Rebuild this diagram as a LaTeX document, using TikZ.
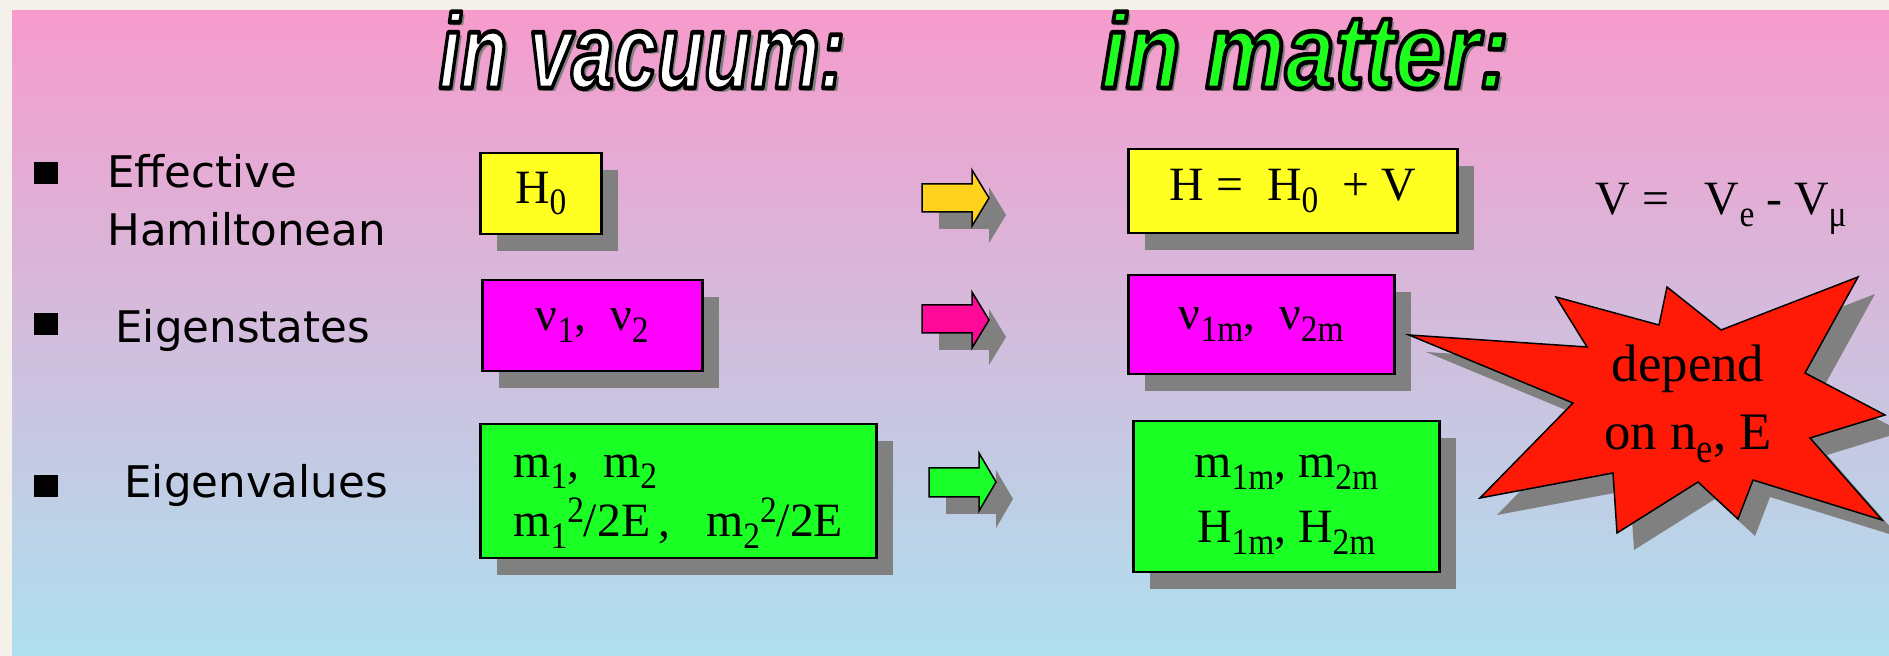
\documentclass[tikz,border=0pt]{standalone}
\usepackage{fontspec}
\setmainfont{Liberation Serif}
\newfontfamily\labelfont{DejaVu Sans}
\newfontfamily\headfont{Liberation Sans}
\usepackage{graphicx}
\usetikzlibrary{shadows}
\definecolor{framecol}{HTML}{F4F1EA}
\definecolor{bgtop}{HTML}{F69BCC}
\definecolor{bgmid}{HTML}{D4BCDD}
\definecolor{bgbot}{HTML}{AEDFEE}
\definecolor{shadowgray}{HTML}{808080}
\definecolor{boxyellow}{HTML}{FFFF22}
\definecolor{boxmag}{HTML}{FF00FF}
\definecolor{boxgreen}{HTML}{1AFF24}
\definecolor{arrorange}{HTML}{FFD21E}
\definecolor{arrpink}{HTML}{FF0A96}
\definecolor{arrgreen}{HTML}{1AFF2A}
\definecolor{burstred}{HTML}{FF1A08}
\definecolor{hdrgreen}{HTML}{1EFF1E}
% narrow, lowered / raised indices as in the slide
\newcommand{\dn}[1]{\raisebox{-0.24em}{\scalebox{0.7}[0.78]{#1}}}
\newcommand{\up}[1]{\raisebox{0.3em}{\scalebox{0.7}[0.78]{#1}}}
% outlined heading text (fill + black stroke)
\newcommand{\outl}[1]{\special{pdf:literal direct 2 Tr 1.3 w 1 j 0 G}#1\special{pdf:literal direct 0 Tr}}
\tikzset{
  dropsh/.style={drop shadow={shadow xshift=1.7mm,shadow yshift=-1.7mm,fill=shadowgray,opacity=1}},
  cell/.style={draw=black,line width=0.25mm,inner sep=0pt,anchor=north west,font=\fontsize{13.6}{17}\selectfont,dropsh},
  blockarr/.style={draw=black,line width=0.15mm,line join=miter,dropsh},
  burst/.style={fill=burstred,draw=black,line width=0.15mm,dropsh},
  lbl/.style={anchor=base west,font=\labelfont\fontsize{12.4}{14}\selectfont},
  bullet/.style={fill=black,inner sep=0pt,minimum width=2.4mm,minimum height=2.2mm},
  hdr/.style={anchor=base,font=\headfont\bfseries\itshape\fontsize{30}{30}\selectfont},
}

\begin{document}
\begin{tikzpicture}[x=0.1mm,y=-0.1mm]
  \useasboundingbox (0,0) rectangle (1889,656);
  % background
  \fill[framecol] (0,0) rectangle (1889,656);
  \shade[top color=bgtop,middle color=bgmid,bottom color=bgbot] (12,11) rectangle (1889,656);

  % headings
  \node[hdr,text=shadowgray] at (646,92) {\scalebox{0.73}[1]{in vacuum:}};
  \node[hdr,text=shadowgray] at (1309,92) {\scalebox{0.85}[1]{in matter:}};
  \node[hdr,text=white] (vac) at (642,88) {\scalebox{0.73}[1]{\outl{in vacuum:}}};
  \node[hdr,text=hdrgreen] (mat) at (1305,88) {\scalebox{0.85}[1]{\outl{in matter:}}};

  % row labels
  \node[bullet] (b1) at (46,173) {};
  \node[bullet] (b2) at (46,324) {};
  \node[bullet] (b3) at (46,486) {};
  \node[lbl] (eff) at (95,188) {Effective};
  \node[lbl] (ham) at (95,246) {Hamiltonean};
  \node[lbl] (est) at (103,343) {Eigenstates};
  \node[lbl] (eva) at (112,498) {Eigenvalues};

  % vacuum column
  \node[cell,fill=boxyellow,minimum width=12.1mm,minimum height=8.1mm] (h0) at (479,152) {H\dn{0}\hspace{0.8mm}};
  \node[cell,fill=boxmag,minimum width=22mm,minimum height=9.1mm] (nu) at (481,279) {ν\dn{1},\ \ ν\dn{2}};
  \node[cell,fill=boxgreen,minimum width=39.6mm,minimum height=13.4mm,align=left] (mass) at (479,423)
    {\rule{0pt}{0.9em}m\dn{1},\ \ m\dn{2}\\m\dn{1}\up{2}/2E\,,\ \ \ m\dn{2}\up{2}/2E};

  % arrows
  \draw[blockarr,fill=arrorange] (922,184) -- (972,184) -- (972,170) -- (989,198) -- (972,226) -- (972,212) -- (922,212) -- cycle;
  \draw[blockarr,fill=arrpink] (922,305) -- (972,305) -- (972,292) -- (989,320) -- (972,348) -- (972,333) -- (922,333) -- cycle;
  \draw[blockarr,fill=arrgreen] (929,468) -- (979,468) -- (979,453) -- (996,482) -- (979,511) -- (979,497) -- (929,497) -- cycle;

  % matter column
  \node[cell,fill=boxyellow,minimum width=32.9mm,minimum height=8.4mm] (hfull) at (1127,148) {H =\ \ H\dn{0}\ \ + V};
  \node[cell,fill=boxmag,minimum width=26.6mm,minimum height=9.9mm] (num) at (1127,274) {ν\dn{1m},\ \ ν\dn{2m}};
  \node[cell,fill=boxgreen,minimum width=30.6mm,minimum height=15.1mm,align=center,font=\fontsize{13.6}{18.5}\selectfont] (massm) at (1132,420)
    {\rule{0pt}{0.8em}m\dn{1m},\ m\dn{2m}\\H\dn{1m},\ H\dn{2m}};
  \node[anchor=base west,inner sep=0pt,font=\fontsize{13.6}{16}\selectfont] (vdef) at (1595,215) {V =\ \ \ V\dn{e} - V\dn{μ}};

  % starburst
  \draw[burst] (1409,335) -- (1587,347) -- (1556,297) -- (1659,325) -- (1667,287) -- (1721,330) -- (1858,277) -- (1805,373)
    -- (1885,415) -- (1810,438) -- (1882,520) -- (1753,480) -- (1738,519) -- (1698,482) -- (1617,533) -- (1613,473)
    -- (1480,498) -- (1573,403) -- cycle;
  \node[align=center,font=\fontsize{15}{19.3}\selectfont] (dep) at (1688,404) {depend\\on n\dn{e}, E};
\end{tikzpicture}
\end{document}
